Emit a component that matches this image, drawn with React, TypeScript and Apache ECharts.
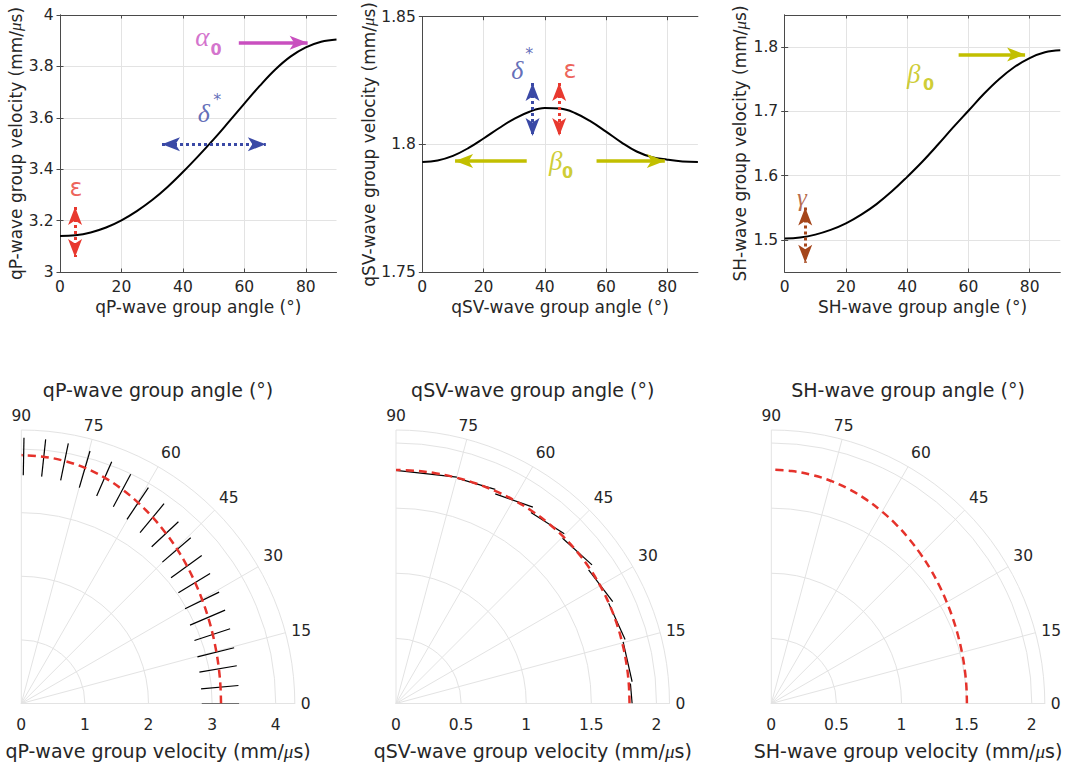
import React, { useEffect, useRef } from "react";
import * as echarts from "echarts";

// ---------------- data ----------------
const GROUP_ANGLES = [0, 5, 10, 15, 20, 25, 30, 35, 40, 45, 50, 55, 60, 65, 70, 75, 80, 85, 90];
const QP_VELOCITY = [3.14, 3.143, 3.154, 3.173, 3.201, 3.237, 3.28, 3.331, 3.389, 3.451, 3.516, 3.585, 3.655, 3.724, 3.787, 3.838, 3.874, 3.896, 3.905];
const QSV_VELOCITY = [1.7931, 1.7937, 1.7955, 1.7985, 1.8023, 1.8063, 1.81, 1.8128, 1.8142, 1.814, 1.8122, 1.809, 1.805, 1.8008, 1.7972, 1.795, 1.794, 1.7933, 1.7931];
const SH_VELOCITY = [1.502, 1.5037, 1.5082, 1.5155, 1.5257, 1.5393, 1.5557, 1.5755, 1.5981, 1.622, 1.648, 1.675, 1.701, 1.727, 1.75, 1.769, 1.783, 1.792, 1.795];

const ANGLE_TICKS = [0, 20, 40, 60, 80];
const QP_V_TICKS = [3, 3.2, 3.4, 3.6, 3.8, 4];
const QSV_V_TICKS = [1.75, 1.8, 1.85];
const SH_V_TICKS = [1.5, 1.6, 1.7, 1.8];
const QP_R_TICKS = [0, 1, 2, 3, 4];
const S_R_TICKS = [0, 0.5, 1, 1.5, 2];

// short black segments in the polar plots: [x1, y1, x2, y2] (horizontal / vertical velocity, mm/us)
const QP_SEGMENTS = [
  [2.837, 0, 3.424, 0],
  [2.826, 0.231, 3.414, 0.283],
  [2.8, 0.493, 3.388, 0.593],
  [2.769, 0.734, 3.346, 0.876],
  [2.722, 0.991, 3.283, 1.175],
  [2.653, 1.232, 3.204, 1.468],
  [2.575, 1.489, 3.11, 1.751],
  [2.47, 1.741, 2.968, 2.045],
  [2.354, 1.977, 2.837, 2.328],
  [2.218, 2.223, 2.664, 2.606],
  [2.05, 2.465, 2.47, 2.858],
  [1.867, 2.685, 2.244, 3.141],
  [1.662, 2.895, 1.998, 3.393],
  [1.447, 3.094, 1.72, 3.603],
  [1.185, 3.262, 1.421, 3.802],
  [0.912, 3.393, 1.08, 3.97],
  [0.619, 3.508, 0.739, 4.09],
  [0.32, 3.566, 0.383, 4.153],
  [0.031, 3.587, 0.042, 4.179],
];
const QSV_SEGMENTS = [
  [0, 1.79, 0.467, 1.738],
  [0.474, 1.728, 0.762, 1.644],
  [0.762, 1.61, 1.051, 1.508],
  [1.036, 1.467, 1.292, 1.303],
  [1.279, 1.269, 1.505, 1.064],
  [1.479, 1.026, 1.664, 0.782],
  [1.633, 0.769, 1.759, 0.492],
  [1.744, 0.474, 1.813, 0.167],
  [1.8, 0.154, 1.813, 0],
];

// annotation arrows (from -> arrow tip), data units
const QP_ALPHA_ARROW = [[58.2, 3.892], [80.6, 3.892]];
const QP_DELTA_ARROW = [[33.2, 3.497], [67.0, 3.497]];
const QP_EPS_ARROW = [[4.9, 3.253], [4.9, 3.058]];
const QSV_DELTA_ARROW = [[36.0, 1.824], [36.0, 1.8033]];
const QSV_EPS_ARROW = [[44.7, 1.824], [44.7, 1.8033]];
const QSV_BETA_LEFT = [[34.1, 1.7935], [10.7, 1.7935]];
const QSV_BETA_RIGHT = [[56.9, 1.7935], [79.2, 1.7935]];
const SH_BETA_ARROW = [[56.8, 1.7886], [78.5, 1.7886]];
const SH_GAMMA_ARROW = [[6.7, 1.5505], [6.7, 1.4645]];

// annotation label anchors, data units
const QP_ALPHA_AT = [46.3, 3.916];
const QP_ALPHA_SUB_AT = [50.8, 3.867];
const QP_DELTA_AT = [46.8, 3.617];
const QP_DELTA_STAR_AT = [51.2, 3.672];
const QP_EPS_AT = [5.2, 3.325];
const QSV_DELTA_AT = [31.0, 1.829];
const QSV_DELTA_STAR_AT = [34.9, 1.8355];
const QSV_EPS_AT = [48.2, 1.829];
const QSV_BETA_AT = [43.6, 1.7933];
const QSV_BETA_SUB_AT = [47.4, 1.7888];
const SH_BETA_AT = [42.1, 1.7586];
const SH_BETA_SUB_AT = [47.0, 1.7414];
const SH_GAMMA_AT = [5.6, 1.5664];

// ---------------- styles ----------------
const FONT = "DejaVu Sans";
const GREEK = "Liberation Serif";
const TXT = "#262626";
const FRAME = "#4a4a4a";
const GRIDC = "#e3e3e3";
const PGRID = "#e3e3e3";
const MAGENTA = "#c94fbf";
const BLUE = "#3a49a6";
const RED = "#e8392f";
const OLIVE = "#c2bf00";
const BROWN = "#a5461b";
const DASHRED = "#e5322b";

const TOP_GRIDS = [
  { left: 60, top: 15, width: 276.5, height: 257 },
  { left: 422.3, top: 15, width: 275.6, height: 257 },
  { left: 784.7, top: 15, width: 275.6, height: 257 },
];
const POLAR_X = [21.3, 396, 771.3];
const POLAR_Y = 703.5;
const POLAR_R = 273.5;

const toPolar = (x: number, y: number) => [Math.hypot(x, y), (Math.atan2(y, x) * 180) / Math.PI];

function arrowLine(from: number[], to: number[], color: string, dotted: boolean, both: boolean) {
  return [
    {
      coord: from,
      symbol: both ? "arrow" : "none",
      symbolSize: [10.5, 18],
      lineStyle: { color, width: dotted ? 3 : 3.5, type: dotted ? [3, 3] : "solid", opacity: 1 },
      itemStyle: { color },
    },
    { coord: to, symbol: "arrow", symbolSize: [10.5, 18], itemStyle: { color } },
  ];
}

type Lbl = { at: number[]; text: string; color: string; size: number; family: string; italic?: boolean; bold?: boolean };

function labelSeries(i: number, items: Lbl[]) {
  return {
    type: "scatter",
    xAxisIndex: i,
    yAxisIndex: i,
    symbolSize: 0,
    silent: true,
    z: 5,
    emphasis: { disabled: true },
    data: items.map((it) => ({
      value: it.at,
      label: {
        show: true,
        position: "inside",
        formatter: it.text,
        color: it.color,
        fontSize: it.size,
        fontFamily: it.family,
        fontStyle: it.italic ? "italic" : "normal",
        fontWeight: it.bold ? "bold" : "normal",
      },
    })),
  };
}

function buildOption() {
  const panels = [
    { xName: "qP-wave group angle (°)", yName: "qP-wave group velocity (mm/{mu|μ}s)", yMin: 3, yMax: 4, yTicks: QP_V_TICKS, values: QP_VELOCITY },
    { xName: "qSV-wave group angle (°)", yName: "qSV-wave group velocity (mm/{mu|μ}s)", yMin: 1.75, yMax: 1.85, yTicks: QSV_V_TICKS, values: QSV_VELOCITY },
    { xName: "SH-wave group angle (°)", yName: "SH-wave group velocity (mm/{mu|μ}s)", yMin: 1.45, yMax: 1.85, yTicks: SH_V_TICKS, values: SH_VELOCITY },
  ];
  const arrows = [
    [
      arrowLine(QP_ALPHA_ARROW[0], QP_ALPHA_ARROW[1], MAGENTA, false, false),
      arrowLine(QP_DELTA_ARROW[0], QP_DELTA_ARROW[1], BLUE, true, true),
      arrowLine(QP_EPS_ARROW[0], QP_EPS_ARROW[1], RED, true, true),
    ],
    [
      arrowLine(QSV_DELTA_ARROW[0], QSV_DELTA_ARROW[1], BLUE, true, true),
      arrowLine(QSV_EPS_ARROW[0], QSV_EPS_ARROW[1], RED, true, true),
      arrowLine(QSV_BETA_LEFT[0], QSV_BETA_LEFT[1], OLIVE, false, false),
      arrowLine(QSV_BETA_RIGHT[0], QSV_BETA_RIGHT[1], OLIVE, false, false),
    ],
    [
      arrowLine(SH_BETA_ARROW[0], SH_BETA_ARROW[1], OLIVE, false, false),
      arrowLine(SH_GAMMA_ARROW[0], SH_GAMMA_ARROW[1], BROWN, true, true),
    ],
  ];
  const labels: Lbl[][] = [
    [
      { at: QP_ALPHA_AT, text: "α", color: MAGENTA, size: 27, family: GREEK, italic: true },
      { at: QP_ALPHA_SUB_AT, text: "0", color: MAGENTA, size: 16, family: FONT, bold: true },
      { at: QP_DELTA_AT, text: "δ", color: BLUE, size: 26, family: GREEK, italic: true },
      { at: QP_DELTA_STAR_AT, text: "*", color: BLUE, size: 16, family: FONT },
      { at: QP_EPS_AT, text: "ε", color: RED, size: 24, family: FONT },
    ],
    [
      { at: QSV_DELTA_AT, text: "δ", color: BLUE, size: 26, family: GREEK, italic: true },
      { at: QSV_DELTA_STAR_AT, text: "*", color: BLUE, size: 16, family: FONT },
      { at: QSV_EPS_AT, text: "ε", color: RED, size: 24, family: FONT },
      { at: QSV_BETA_AT, text: "β", color: OLIVE, size: 27, family: GREEK, italic: true },
      { at: QSV_BETA_SUB_AT, text: "0", color: OLIVE, size: 16, family: FONT, bold: true },
    ],
    [
      { at: SH_BETA_AT, text: "β", color: OLIVE, size: 27, family: GREEK, italic: true },
      { at: SH_BETA_SUB_AT, text: "0", color: OLIVE, size: 16, family: FONT, bold: true },
      { at: SH_GAMMA_AT, text: "γ", color: BROWN, size: 25, family: GREEK, italic: true },
    ],
  ];

  const tickLabel = { color: TXT, fontSize: 15.5, fontFamily: FONT };
  const nameStyle = (size: number) => ({
    color: TXT,
    fontSize: size,
    fontFamily: FONT,
    rich: { mu: { fontSize: size, fontFamily: GREEK, fontStyle: "italic", color: TXT } },
  });

  const xAxis: any[] = [];
  const yAxis: any[] = [];
  const series: any[] = [];

  panels.forEach((p, i) => {
    xAxis.push({
      type: "value", gridIndex: i, min: 0, max: 90, position: "bottom",
      axisLine: { show: true, lineStyle: { color: FRAME, width: 1 } },
      axisTick: { show: true, inside: true, length: 3.5, customValues: ANGLE_TICKS, lineStyle: { color: FRAME } },
      axisLabel: { ...tickLabel, margin: 7, customValues: ANGLE_TICKS },
      splitLine: { show: true, lineStyle: { color: GRIDC, width: 1 } },
      name: p.xName, nameLocation: "middle", nameGap: 26, nameTextStyle: nameStyle(17),
    });
    yAxis.push({
      type: "value", gridIndex: i, min: p.yMin, max: p.yMax, position: "left",
      axisLine: { show: true, lineStyle: { color: FRAME, width: 1 } },
      axisTick: { show: true, inside: true, length: 3.5, customValues: p.yTicks, lineStyle: { color: FRAME } },
      axisLabel: { ...tickLabel, margin: 6.5, customValues: p.yTicks },
      splitLine: { show: true, lineStyle: { color: GRIDC, width: 1 } },
      name: p.yName, nameLocation: "middle", nameGap: 36, nameTextStyle: nameStyle(17),
    });
  });
  panels.forEach((p, i) => {
    xAxis.push({
      type: "value", gridIndex: i, min: 0, max: 90, position: "top",
      axisLine: { show: true, lineStyle: { color: FRAME, width: 1 } },
      axisTick: { show: true, inside: true, length: 3.5, customValues: ANGLE_TICKS, lineStyle: { color: FRAME } },
      axisLabel: { show: false },
      splitLine: { show: false },
    });
    yAxis.push({
      type: "value", gridIndex: i, min: p.yMin, max: p.yMax, position: "right",
      axisLine: { show: true, lineStyle: { color: FRAME, width: 1 } },
      axisTick: { show: true, inside: true, length: 3.5, customValues: p.yTicks, lineStyle: { color: FRAME } },
      axisLabel: { show: false },
      splitLine: { show: false },
    });
  });

  panels.forEach((p, i) => {
    series.push({
      type: "line", xAxisIndex: i, yAxisIndex: i,
      data: GROUP_ANGLES.map((a, k) => [a, p.values[k]]),
      smooth: 0.4, symbol: "none", silent: true, z: 3,
      lineStyle: { color: "#000000", width: 2 },
      markLine: { silent: true, symbol: ["none", "none"], label: { show: false }, emphasis: { disabled: true }, data: arrows[i] },
    });
    series.push(labelSeries(i, labels[i]));
  });

  // polar plots
  const polarVel = [QP_VELOCITY, QSV_VELOCITY, SH_VELOCITY];
  const polarSegs = [QP_SEGMENTS, QSV_SEGMENTS, []];
  polarSegs.forEach((segs, i) => {
    segs.forEach((s) => {
      series.push({
        type: "line", coordinateSystem: "polar", polarIndex: i,
        data: [toPolar(s[0], s[1]), toPolar(s[2], s[3])],
        symbol: "none", silent: true, z: 2,
        lineStyle: { color: "#000000", width: 1.2 },
      });
    });
  });
  polarVel.forEach((vals, i) => {
    series.push({
      type: "line", coordinateSystem: "polar", polarIndex: i,
      data: GROUP_ANGLES.map((a, k) => [vals[k], a]),
      smooth: 0.4, symbol: "none", silent: true, z: 3,
      lineStyle: { color: DASHRED, width: 2.5, type: [8, 5] },
    });
  });

  const polarNames = [
    "qP-wave group velocity (mm/{mu|μ}s)",
    "qSV-wave group velocity (mm/{mu|μ}s)",
    "SH-wave group velocity (mm/{mu|μ}s)",
  ];
  const polarTitles = ["qP-wave group angle (°)", "qSV-wave group angle (°)", "SH-wave group angle (°)"];
  const rMax = [4.3, 2.1, 2.1];
  const rTicks = [QP_R_TICKS, S_R_TICKS, S_R_TICKS];

  return {
    animation: false,
    grid: TOP_GRIDS.map((g) => ({ ...g, containLabel: false })),
    xAxis,
    yAxis,
    polar: POLAR_X.map((cx) => ({ center: [cx, POLAR_Y], radius: POLAR_R })),
    angleAxis: [0, 1, 2].map((i) => ({
      polarIndex: i, type: "value", min: 0, max: 90, interval: 15,
      startAngle: 0, endAngle: 90, clockwise: false,
      axisLine: { show: true, lineStyle: { color: PGRID, width: 1 } },
      axisTick: { show: false },
      axisLabel: { ...tickLabel, margin: 6 },
      splitLine: { show: true, lineStyle: { color: PGRID, width: 1 } },
    })),
    radiusAxis: [0, 1, 2].map((i) => ({
      polarIndex: i, type: "value", min: 0, max: rMax[i],
      axisLine: { show: true, lineStyle: { color: PGRID, width: 1 } },
      axisTick: { show: false, customValues: rTicks[i] },
      axisLabel: { ...tickLabel, margin: -29, customValues: rTicks[i] },
      splitLine: { show: true, lineStyle: { color: PGRID, width: 1 } },
      name: polarNames[i], nameLocation: "middle", nameGap: 38, nameTextStyle: nameStyle(19),
    })),
    graphic: polarTitles.map((t, i) => ({
      type: "text",
      x: POLAR_X[i] + POLAR_R / 2,
      y: 390,
      style: { text: t, fill: TXT, font: `19px "${FONT}"`, align: "center", verticalAlign: "middle" },
    })),
    series,
  };
}

export default function App() {
  const ref = useRef<HTMLDivElement>(null);
  useEffect(() => {
    document.body.style.margin = "0";
    const chart = echarts.init(ref.current as HTMLDivElement, null, { renderer: "svg" });
    chart.setOption(buildOption() as any);
    return () => chart.dispose();
  }, []);
  return <div ref={ref} style={{ width: 1077, height: 769 }} />;
}
